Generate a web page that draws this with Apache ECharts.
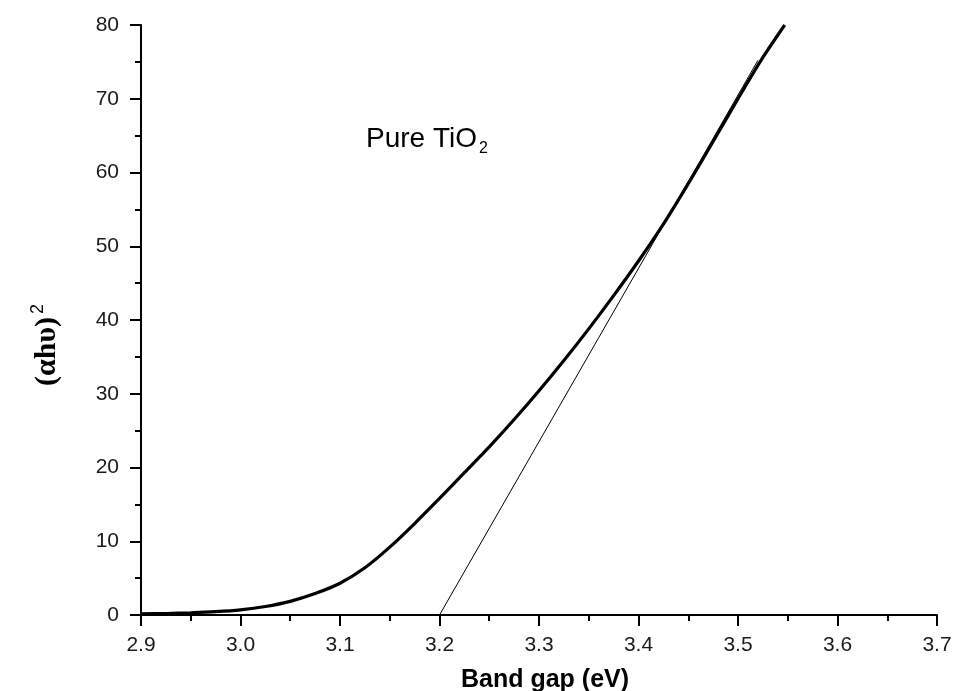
<!DOCTYPE html>
<html>
<head>
<meta charset="utf-8">
<script src="https://cdn.jsdelivr.net/npm/echarts@6/dist/echarts.min.js"></script>
<style>
  html, body { margin: 0; padding: 0; background: #fff; }
  #chart { width: 957px; height: 691px; }
</style>
</head>
<body>
<div id="chart"></div>
<script>
// photon energy (eV) and (alpha h nu)^2
var energy = [2.90, 2.925, 2.95, 2.975, 3.00, 3.025, 3.05, 3.075, 3.10, 3.125, 3.15, 3.175,
  3.20, 3.225, 3.25, 3.275, 3.30, 3.325, 3.35, 3.375, 3.40, 3.425, 3.45, 3.475, 3.50, 3.525, 3.547];
var absorb = [0.15, 0.2, 0.3, 0.45, 0.7, 1.15, 1.85, 2.9, 4.3, 6.4, 9.2, 12.4,
  15.8, 19.3, 22.8, 26.5, 30.4, 34.5, 38.8, 43.3, 48.0, 53.0, 58.5, 64.2, 70.0, 75.6, 80];

// tangent (Tauc extrapolation) end points
var tangentX = [3.2, 3.52];
var tangentY = [0, 75.2];

var xTicks = { min: 2.9, max: 3.7, step: 0.1 };
var yTicks = { min: 0, max: 80, step: 10 };

var curve = [];
for (var i = 0; i < energy.length; i++) {
  curve.push([energy[i], absorb[i]]);
}
var tangent = [];
for (var j = 0; j < tangentX.length; j++) {
  tangent.push([tangentX[j], tangentY[j]]);
}

var chart = echarts.init(document.getElementById('chart'));

var axisCommon = {
  axisLine: { show: true, onZero: false, lineStyle: { color: '#000', width: 2 } },
  axisTick: { show: true, inside: false, length: 11, lineStyle: { color: '#000', width: 2 } },
  minorTick: { show: true, splitNumber: 2, length: 6, lineStyle: { color: '#000', width: 2 } },
  splitLine: { show: false },
  axisLabel: { color: '#1a1a1a', fontSize: 21, fontFamily: 'Liberation Sans, Arial' }
};

chart.setOption({
  animation: false,
  backgroundColor: '#fff',
  grid: { left: 141, right: 20, top: 25, bottom: 76, containLabel: false, outerBoundsMode: 'none' },
  xAxis: Object.assign({}, axisCommon, {
    type: 'value',
    min: xTicks.min,
    max: xTicks.max,
    interval: xTicks.step,
    name: 'Band gap (eV)',
    nameLocation: 'middle',
    nameGap: 53,
    nameTextStyle: { color: '#000', fontSize: 25, fontWeight: 'bold', fontFamily: 'Liberation Sans, Arial', padding: [0, 0, 0, 12] },
    axisLabel: Object.assign({}, axisCommon.axisLabel, {
      margin: 20,
      formatter: function (v) { return v.toFixed(1); }
    })
  }),
  yAxis: Object.assign({}, axisCommon, {
    type: 'value',
    min: yTicks.min,
    max: yTicks.max,
    interval: yTicks.step,
    name: '{b|(\u03b1h\u03c5)}{s|2}',
    nameLocation: 'middle',
    nameGap: 76,
    nameRotate: 90,
    nameTextStyle: {
      padding: [0, 50, 0, 0],
      rich: {
        b: { fontSize: 30, fontWeight: 'bold', fontFamily: 'Liberation Serif, Times New Roman', color: '#000' },
        s: { fontSize: 18, fontFamily: 'Liberation Sans, Arial', color: '#000', verticalAlign: 'top', padding: [0, 0, 18, 3] }
      }
    },
    axisLabel: Object.assign({}, axisCommon.axisLabel, { margin: 22 })
  }),
  graphic: [{
    type: 'text',
    left: 366,
    top: 125,
    style: {
      text: '{m|Pure TiO}{s|2}',
      rich: {
        m: { fontSize: 28, fontFamily: 'Liberation Sans, Arial', fill: '#000' },
        s: { fontSize: 16, fontFamily: 'Liberation Sans, Arial', fill: '#000', padding: [19, 0, 0, 2] }
      }
    }
  }],
  series: [
    {
      type: 'line',
      data: curve,
      smooth: 0.3,
      showSymbol: false,
      lineStyle: { color: '#000', width: 3.2 },
      z: 3
    },
    {
      type: 'line',
      data: tangent,
      showSymbol: false,
      lineStyle: { color: '#000', width: 1 },
      z: 2
    }
  ]
});
</script>
</body>
</html>
